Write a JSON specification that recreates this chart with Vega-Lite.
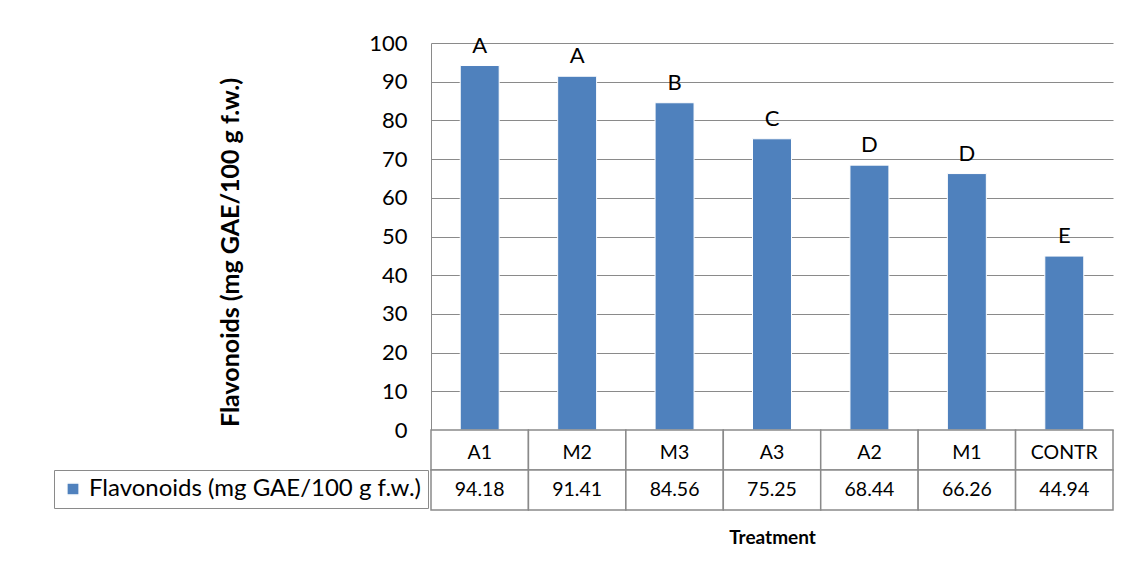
{
  "$schema": "https://vega.github.io/schema/vega-lite/v6.json",
  "padding": {"left": 53, "top": 32, "right": 19, "bottom": 20},
  "config": {"font": "Lato", "view": {"stroke": null}, "concat": {"spacing": 0}},
  "bounds": "flush",
  "datasets": {
    "d": [
      {"treatment": "A1", "value": 94.18, "group": "A"},
      {"treatment": "M2", "value": 91.41, "group": "A"},
      {"treatment": "M3", "value": 84.56, "group": "B"},
      {"treatment": "A3", "value": 75.25, "group": "C"},
      {"treatment": "A2", "value": 68.44, "group": "D"},
      {"treatment": "M1", "value": 66.26, "group": "D"},
      {"treatment": "CONTR", "value": 44.94, "group": "E"}
    ]
  },
  "vconcat": [
    {
      "width": 682,
      "height": 387,
      "data": {"name": "d"},
      "encoding": {
        "x": {"field": "treatment", "type": "nominal", "sort": null, "axis": null,
              "scale": {"paddingInner": 0.6, "paddingOuter": 0.3}},
        "y": {"field": "value", "type": "quantitative",
              "scale": {"domain": [0, 100]},
              "axis": {"values": [0,10,20,30,40,50,60,70,80,90,100], "grid": true, "gridColor": "#8a8a8a",
                       "domainColor": "#8a8a8a", "ticks": false, "labelPadding": 24, "labelFontSize": 22,
                       "labelColor": "#000", "title": "Flavonoids (mg GAE/100 g f.w.)", "titleFontSize": 25,
                       "titleFontWeight": "bold", "titleColor": "#000", "titlePadding": 125, "titleY": 209}}
      },
      "layer": [
        {
          "mark": {"type": "bar", "stroke": "#ffffff", "strokeWidth": 1},
          "encoding": {
            "color": {"datum": "Flavonoids (mg GAE/100 g f.w.)", "type": "nominal",
                      "scale": {"range": ["#4F81BD"]},
                      "legend": {"orient": "none", "legendX": -377, "legendY": 427, "title": null,
                                 "symbolType": "square", "symbolSize": 150, "labelFontSize": 24,
                                 "labelColor": "#000", "strokeColor": "#8a8a8a", "padding": 7,
                                 "fillColor": "#fff", "labelLimit": 420}}
          }
        },
        {
          "mark": {"type": "text", "dy": -20, "fontSize": 22, "color": "#000"},
          "encoding": {"text": {"field": "group"}}
        }
      ]
    },
    {
      "width": 682,
      "height": 80,
      "data": {"name": "d"},
      "encoding": {
        "x": {"field": "treatment", "type": "nominal", "sort": null,
              "axis": {"labels": false, "ticks": false, "domain": false, "title": "Treatment",
                       "titleFontSize": 19, "titleFontWeight": "bold", "titleColor": "#000", "titlePadding": 18}}
      },
      "layer": [
        {
          "mark": {"type": "rect", "fill": "#fff", "stroke": "#8a8a8a", "strokeWidth": 1.5},
          "encoding": {"y": {"datum": "cat", "type": "nominal", "scale": {"domain": ["cat", "val"]}, "axis": null}}
        },
        {
          "mark": {"type": "rect", "fill": "#fff", "stroke": "#8a8a8a", "strokeWidth": 1.5},
          "encoding": {"y": {"datum": "val", "type": "nominal", "axis": null}}
        },
        {
          "mark": {"type": "text", "fontSize": 19.5, "dy": 3, "color": "#000"},
          "encoding": {"y": {"datum": "cat", "type": "nominal", "axis": null}, "text": {"field": "treatment"}}
        },
        {
          "mark": {"type": "text", "fontSize": 19.5, "color": "#000"},
          "encoding": {"y": {"datum": "val", "type": "nominal", "axis": null},
                       "text": {"field": "value", "format": ".2f"}}
        }
      ]
    }
  ]
}
